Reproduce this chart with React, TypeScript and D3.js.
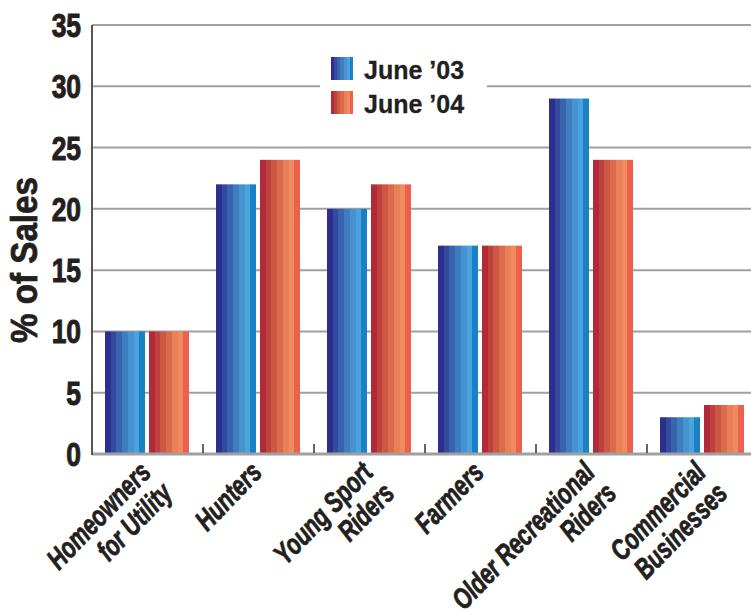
import React from "react";
import * as d3 from "d3";

const categories: string[][] = [
  ["Homeowners", "for Utility"],
  ["Hunters"],
  ["Young Sport", "Riders"],
  ["Farmers"],
  ["Older Recreational", "Riders"],
  ["Commercial", "Businesses"],
];
const seriesNames = ["June ’03", "June ’04"];
const june03 = [10, 22, 20, 17, 29, 3];
const june04 = [10, 24, 22, 17, 24, 4];
const yTicks = [0, 5, 10, 15, 20, 25, 30, 35];

const blueStripes = ["#2d2e8f", "#344a9e", "#3863ae", "#3f7cc0", "#4593d0", "#4aa3dc", "#1a82c4"];
const redStripes = ["#b22a37", "#bf413d", "#cc5742", "#db6b4b", "#e9805a", "#f08b60", "#ef5f4e"];

const W = 751;
const H = 614;
const font = "'Liberation Sans', Arial, Helvetica, sans-serif";
const ink = "#231f20";

function Stripes({ id, colors }: { id: string; colors: string[] }) {
  const n = colors.length;
  const stops: React.ReactNode[] = [];
  colors.forEach((c, i) => {
    stops.push(<stop key={i + "a"} offset={`${(i / n) * 100}%`} stopColor={c} />);
    stops.push(<stop key={i + "b"} offset={`${((i + 1) / n) * 100}%`} stopColor={c} />);
  });
  return (
    <linearGradient id={id} x1="0" y1="0" x2="1" y2="0">
      {stops}
    </linearGradient>
  );
}

export default function App() {
  const keys = categories.map((c) => c.join(" "));
  const x = d3.scaleBand<string>().domain(keys).range([92, 758]).padding(0);
  const inner = d3.scaleBand<string>().domain(seriesNames).range([13, 97]).paddingInner(4 / 44);
  const y = d3.scaleLinear().domain([0, 35]).range([454, 25]);
  const values = [june03, june04];
  const fills = ["url(#blueS)", "url(#redS)"];

  return (
    <svg width={W} height={H} style={{ position: "absolute", left: 0, top: 0, background: "#fff" }}>
      <defs>
        <Stripes id="blueS" colors={blueStripes} />
        <Stripes id="redS" colors={redStripes} />
      </defs>
      <rect x={0} y={0} width={W} height={H} fill="#fff" />
      {yTicks.filter((t) => t > 0).map((t) => (
        <line key={t} x1={92} x2={W} y1={y(t)} y2={y(t)} stroke="#a0a0a0" strokeWidth={2} />
      ))}
      {keys.map((k, i) =>
        seriesNames.map((s, j) => (
          <rect
            key={k + s}
            x={(x(k) as number) + (inner(s) as number)}
            y={y(values[j][i])}
            width={inner.bandwidth()}
            height={y(0) - y(values[j][i])}
            fill={fills[j]}
          />
        ))
      )}
      <line x1={92} x2={W} y1={y(0)} y2={y(0)} stroke="#a0a0a0" strokeWidth={3} />
      {keys.slice(1).map((k) => (
        <line key={k} x1={x(k) as number} x2={x(k) as number} y1={y(0) - 10} y2={y(0) - 1} stroke="#333" strokeWidth={1.5} />
      ))}
      <line x1={92} x2={92} y1={y(35)} y2={y(0) + 1} stroke="#555" strokeWidth={2} />
      {yTicks.map((t) => (
        <text
          key={t}
          transform={`translate(81,${y(t) + 12}) scale(0.8,1)`}
          textAnchor="end"
          fontFamily={font}
          fontWeight="bold"
          fontSize={33}
          fill={ink}
          stroke={ink}
          strokeWidth={1}
        >
          {t}
        </text>
      ))}
      <text
        transform={`translate(37,260) rotate(-90)`}
        textAnchor="middle"
        fontFamily={font}
        fontWeight="bold"
        fontSize={37}
        fill={ink}
        stroke={ink}
        strokeWidth={0.8}
        textLength={166}
        lengthAdjust="spacingAndGlyphs"
      >
        % of Sales
      </text>
      <rect x={320} y={50} width={167} height={72} fill="#fff" />
      {seriesNames.map((s, j) => (
        <g key={s}>
          <rect x={331} y={57 + j * 34} width={22} height={23} fill={fills[j]} />
          <text x={364} y={79 + j * 34} fontFamily={font} fontWeight="bold" fontSize={25} fill={ink} stroke={ink} strokeWidth={0.3}>
            {s}
          </text>
        </g>
      ))}
      {categories.map((lines, i) => {
        const cx = (x(keys[i]) as number) + x.bandwidth() / 2 + 5;
        return (
          <text
            key={i}
            transform={`translate(${cx},474) rotate(-46) scale(0.74,1)`}
            textAnchor="end"
            fontFamily={font}
            fontWeight="bold"
            fontStyle="italic"
            fontSize={29}
            fill={ink}
            stroke={ink}
            strokeWidth={0.8}
          >
            {lines.map((l, li) => (
              <tspan key={li} x={0} dy={li === 0 ? 0 : 30}>
                {l}
              </tspan>
            ))}
          </text>
        );
      })}
    </svg>
  );
}
